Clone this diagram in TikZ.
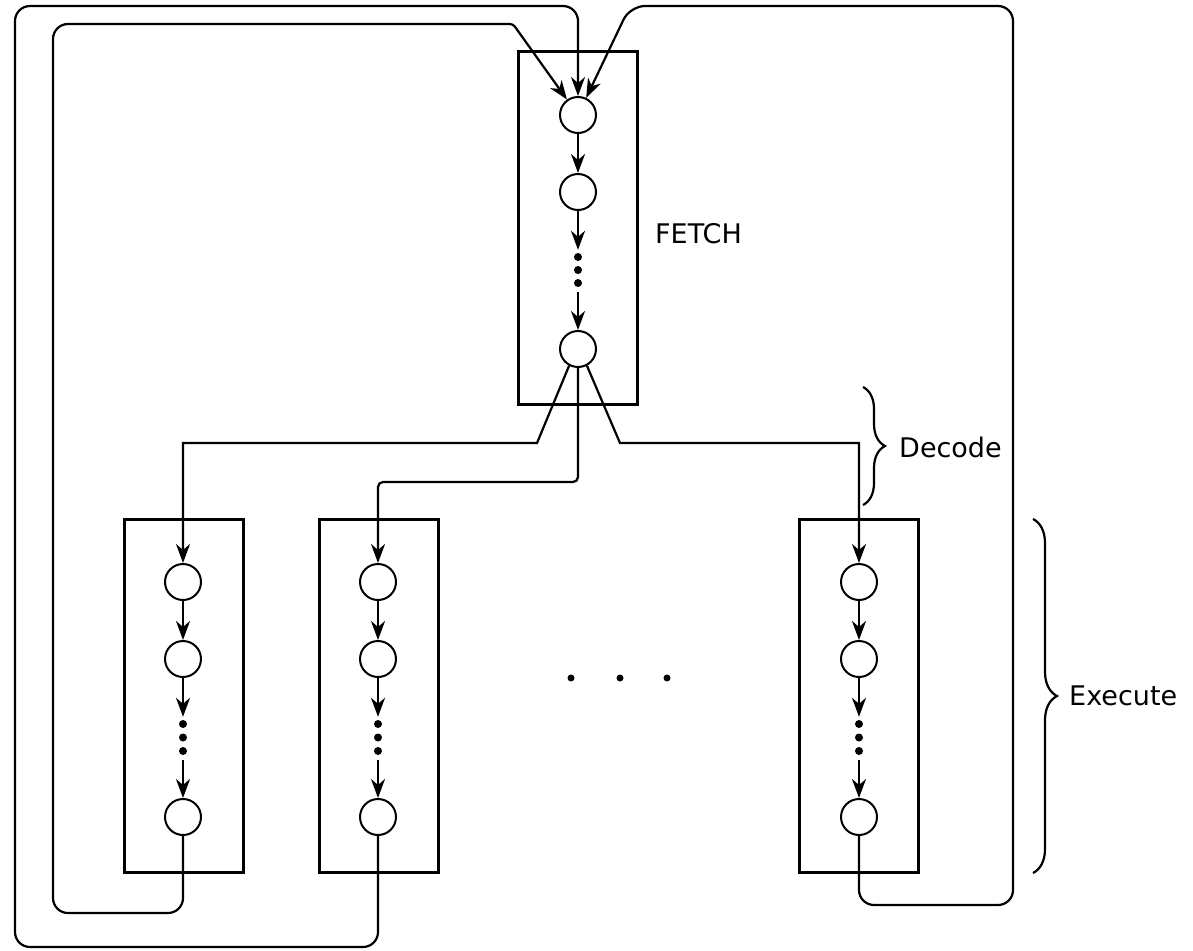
\documentclass[tikz,border=0pt]{standalone}
\usepackage{fontspec}
\setmainfont{DejaVu Sans}
\usetikzlibrary{arrows.meta,decorations.pathreplacing}
\begin{document}
\begin{tikzpicture}[x=1pt,y=-1pt,
  stagebox/.style={draw,line width=3pt,minimum width=119pt,minimum height=353pt,inner sep=0pt,outer sep=0pt},
  st/.style={draw,circle,line width=2pt,minimum size=36pt,inner sep=0pt},
  dotn/.style={fill,circle,minimum size=8pt,inner sep=0pt},
  conn/.style={line width=2.2pt},
  arr/.style={conn,-{Stealth[length=19pt,width=14pt,inset=6pt]}},
  lbl/.style={font=\fontsize{27}{32}\selectfont,anchor=west,inner sep=0pt},
  brc/.style={decorate,decoration={brace,amplitude=#1,aspect=0.5},line width=2.2pt}
]
\useasboundingbox (0,0) rectangle (1193,950);

% boxes
\node[stagebox] (fbox) at (577.5,228) {};
\node[stagebox] (b1) at (183.5,695.5) {};
\node[stagebox] (b2) at (378.5,695.5) {};
\node[stagebox] (b3) at (859,695.5) {};

% fetch states
\node[st] (f1) at (578,115) {};
\node[st] (f2) at (578,192) {};
\node[st] (f3) at (578,349) {};
\node[dotn] (fd1) at (578,257) {};
\node[dotn] (fd2) at (578,270) {};
\node[dotn] (fd3) at (578,283) {};
\draw[arr] (f1) -- (f2);
\draw[arr,shorten >=3pt] (f2) -- (fd1);
\draw[arr,shorten <=5pt] (fd3) -- (f3);

% execute columns
\foreach \i/\x in {1/183,2/378,3/859}{
  \node[st] (c\i1) at (\x,582) {};
  \node[st] (c\i2) at (\x,659) {};
  \node[st] (c\i3) at (\x,817) {};
  \node[dotn] (d\i1) at (\x,724) {};
  \node[dotn] (d\i2) at (\x,737.5) {};
  \node[dotn] (d\i3) at (\x,751) {};
  \draw[arr] (c\i1) -- (c\i2);
  \draw[arr,shorten >=3pt] (c\i2) -- (d\i1);
  \draw[arr,shorten <=5pt] (d\i3) -- (c\i3);
}

% middle dots
\node[dotn,minimum size=7pt] (m1) at (571,678) {};
\node[dotn,minimum size=7pt] (m2) at (620,678) {};
\node[dotn,minimum size=7pt] (m3) at (667,678) {};

% decode connectors
\draw[arr] (f3.-118) -- (537,443) -- (183,443) -- (c11);
\draw[arr,rounded corners=5pt] (f3.south) -- (578,482) -- (378,482) -- (c21);
\draw[arr] (f3.-62) -- (620,443) -- (859,443) -- (c31);

% feedback loops
\draw[arr,rounded corners=15pt] (c13) -- (183,913) -- (53,913) -- (53,24) [rounded corners=3pt] -- (513,24) -- (f1);
\draw[arr,rounded corners=15pt] (c23) -- (378,947) -- (15,947) -- (15,6) -- (578,6) -- (f1);
\draw[arr,rounded corners=15pt] (c33) -- (859,905) -- (1013,905) -- (1013,6) -- (630,6) -- (f1);

% braces and labels
\draw[brc=22pt] (863,387) -- (863,505);
\draw[brc=24pt] (1033,519) -- (1033,873);
\node[lbl] (fetch) at (655,233.5) {FETCH};
\node[lbl] (decode) at (899,447) {Decode};
\node[lbl] (execute) at (1069,696) {Execute};
\end{tikzpicture}
\end{document}
